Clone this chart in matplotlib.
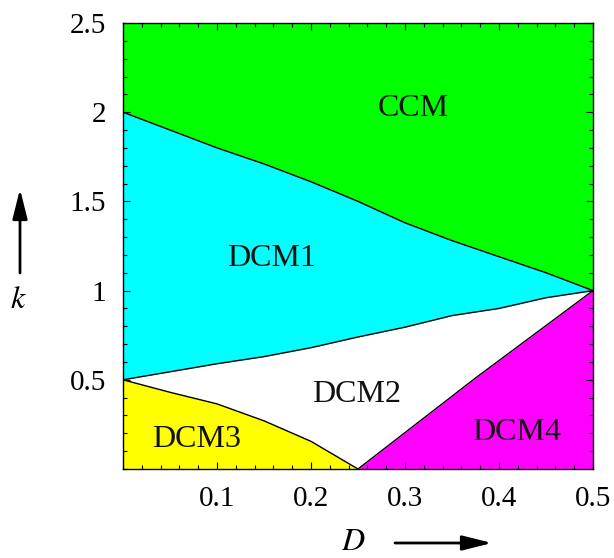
import matplotlib
matplotlib.use("Agg")
import matplotlib.pyplot as plt
from matplotlib.patches import FancyArrowPatch
from matplotlib.ticker import MultipleLocator, FixedLocator

# Duty ratio grid and boundary curves of the operating-mode map
D_grid = [0.0, 0.05, 0.10, 0.15, 0.20, 0.25, 0.30, 0.35, 0.40, 0.45, 0.50]
k_ccm_dcm1 = [2.0, 1.90, 1.80, 1.71, 1.61, 1.50, 1.38, 1.28, 1.19, 1.10, 1.0]
k_dcm1_dcm2 = [0.5, 0.545, 0.59, 0.63, 0.68, 0.74, 0.795, 0.86, 0.90, 0.96, 1.0]

D_dcm3 = [0.0, 0.05, 0.10, 0.15, 0.20, 0.25]
k_dcm3 = [0.5, 0.43, 0.365, 0.27, 0.155, 0.0]

D_dcm4 = [0.25, 0.375, 0.50]
k_dcm4 = [0.0, 0.51, 1.0]

region_names = ["CCM", "DCM1", "DCM2", "DCM3", "DCM4"]
region_D = [0.309, 0.158, 0.249, 0.078, 0.419]
region_k = [2.02, 1.18, 0.415, 0.163, 0.207]

x_ticks = [0.1, 0.2, 0.3, 0.4, 0.5]
y_ticks = [0.5, 1.0, 1.5, 2.0, 2.5]
x_labels = ["0.1", "0.2", "0.3", "0.4", "0.5"]
y_labels = ["0.5", "1", "1.5", "2", "2.5"]

serif = ["Liberation Serif", "DejaVu Serif"]
plt.rcParams["font.family"] = serif
plt.rcParams["mathtext.fontset"] = "stix"

fig = plt.figure(figsize=(6.14, 5.58), dpi=100)
ax = fig.add_axes([123 / 614, 89 / 558, 470 / 614, 446 / 558])
ax.set_facecolor("white")
ax.set_xlim(0, 0.5)
ax.set_ylim(0, 2.5)

# Filled regions
ax.fill_between(D_grid, k_ccm_dcm1, 2.5, color="#00ff00", lw=0)
ax.fill_between(D_grid, k_dcm1_dcm2, k_ccm_dcm1, color="#00ffff", lw=0)
ax.fill_between(D_dcm3, 0, k_dcm3, color="#ffff00", lw=0)
ax.fill_between(D_dcm4, 0, k_dcm4, color="#ff00ff", lw=0)

# Boundary lines
for xs, ys in [(D_grid, k_ccm_dcm1), (D_grid, k_dcm1_dcm2),
               (D_dcm3, k_dcm3), (D_dcm4, k_dcm4)]:
    ax.plot(xs, ys, color="black", lw=1.0)

for name, dx, ky in zip(region_names, region_D, region_k):
    ax.text(dx, ky, name, fontsize=23, ha="center", va="center", color="#111111")

# Ticks on all sides, pointing inward
ax.xaxis.set_major_locator(FixedLocator(x_ticks))
ax.yaxis.set_major_locator(FixedLocator(y_ticks))
ax.set_xticklabels(x_labels)
ax.set_yticklabels(y_labels)
ax.xaxis.set_minor_locator(MultipleLocator(0.02))
ax.yaxis.set_minor_locator(MultipleLocator(0.1))
ax.tick_params(which="both", direction="in", top=True, right=True,
               labelsize=21, width=0.8)
ax.tick_params(axis="x", which="major", length=5, pad=12)
ax.tick_params(axis="y", which="major", length=5, pad=12)
ax.tick_params(which="minor", length=3)
for s in ax.spines.values():
    s.set_linewidth(1.0)

# Axis labels with direction arrows
fig.text(353 / 614, 1 - 542 / 558, "$D$", fontsize=23, ha="center", va="center")
fig.text(18 / 614, 1 - 300 / 558, "$k$", fontsize=23, ha="center", va="center")
arrow_style = "-|>,head_length=18,head_width=4.5"
fig.add_artist(FancyArrowPatch(
    (395 / 614, 1 - 543 / 558), (492 / 614, 1 - 543 / 558),
    transform=fig.transFigure, arrowstyle=arrow_style,
    color="black", lw=2.0, mutation_scale=1, shrinkA=0, shrinkB=0))
fig.add_artist(FancyArrowPatch(
    (20 / 614, 1 - 273 / 558), (20 / 614, 1 - 189 / 558),
    transform=fig.transFigure, arrowstyle=arrow_style,
    color="black", lw=2.0, mutation_scale=1, shrinkA=0, shrinkB=0))

fig.savefig("out.png", dpi=100)
